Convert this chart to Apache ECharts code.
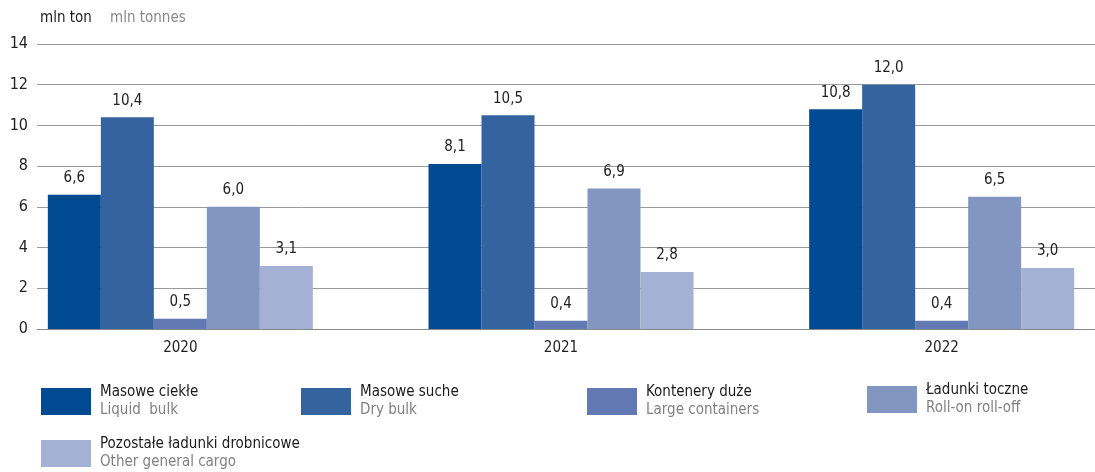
<!DOCTYPE html>
<html>
<head>
<meta charset="utf-8">
<script src="https://cdn.jsdelivr.net/npm/echarts@6/dist/echarts.min.js"></script>
<style>
html,body{margin:0;padding:0;background:#fff;}
#c{width:1095px;height:472px;}
</style>
</head>
<body>
<div id="c"></div>
<script>
const years = ['2020', '2021', '2022'];
const namesPl = ['Masowe ciekłe', 'Masowe suche', 'Kontenery duże', 'Ładunki toczne', 'Pozostałe ładunki drobnicowe'];
const namesEn = ['Liquid  bulk', 'Dry bulk', 'Large containers', 'Roll-on roll-off', 'Other general cargo'];
const liquidBulk = [6.6, 8.1, 10.8];
const dryBulk = [10.4, 10.5, 12.0];
const largeContainers = [0.5, 0.4, 0.4];
const roRo = [6.0, 6.9, 6.5];
const otherCargo = [3.1, 2.8, 3.0];
const yTicks = [0, 2, 4, 6, 8, 10, 12, 14];

const seriesData = [liquidBulk, dryBulk, largeContainers, roRo, otherCargo];
const colors = ['#004a91', '#3563a0', '#6279b3', '#8396c2', '#a4b0d4'];
const FONT = '"Liberation Sans Narrow","DejaVu Sans Condensed",sans-serif';
const FS = 15;
const legendPos = [
  {left: 41, top: 385},
  {left: 301, top: 385},
  {left: 587, top: 385},
  {left: 867, top: 383},
  {left: 41, top: 437}
];

const chart = echarts.init(document.getElementById('c'), null, {renderer: 'canvas'});
const option = {
  animation: false,
  textStyle: {fontFamily: FONT},
  grid: [
    {left: 37, right: 0, top: 44, bottom: 143, outerBoundsMode: 'none', containLabel: false},
    {left: -10, right: -37, top: 44, bottom: 143, outerBoundsMode: 'none', containLabel: false}
  ],
  xAxis: [
    {type: 'category', gridIndex: 0, data: years, axisLine: {lineStyle: {color: '#888', width: 1}},
     axisTick: {show: false}, axisLabel: {show: false}},
    {type: 'category', gridIndex: 1, data: years, axisLine: {show: false}, axisTick: {show: false},
     axisLabel: {color: '#222', fontSize: FS, fontFamily: FONT, margin: 12}}
  ],
  yAxis: [
    {type: 'value', gridIndex: 0, min: yTicks[0], max: yTicks[yTicks.length - 1], interval: 2,
     axisLine: {show: false}, axisTick: {show: false},
     axisLabel: {color: '#222', fontSize: 16, fontFamily: FONT, margin: 9},
     splitLine: {lineStyle: {color: '#999', width: 1}}},
    {type: 'value', gridIndex: 1, min: yTicks[0], max: yTicks[yTicks.length - 1], interval: 2, show: false,
     splitLine: {show: false}}
  ],
  legend: namesPl.map((n, i) => ({
    data: [n],
    left: legendPos[i].left,
    top: legendPos[i].top,
    padding: 0,
    itemWidth: 50,
    itemHeight: 27,
    icon: 'rect',
    selectedMode: false,
    formatter: name => '{a|' + name + '}\n{b|' + namesEn[namesPl.indexOf(name)] + '}',
    textStyle: {
      fontFamily: FONT,
      padding: [0, 0, 0, 4],
      rich: {
        a: {fontSize: FS, color: '#1a1a1a', lineHeight: 18, fontFamily: FONT},
        b: {fontSize: FS, color: '#808080', lineHeight: 18, fontFamily: FONT}
      }
    }
  })),
  graphic: [
    {type: 'text', left: 40, top: 11, style: {text: 'mln ton', fontSize: FS, fill: '#1a1a1a', fontFamily: FONT}},
    {type: 'text', left: 110, top: 11, style: {text: 'mln tonnes', fontSize: FS, fill: '#888', fontFamily: FONT}}
  ],
  series: seriesData.map((d, i) => ({
    name: namesPl[i],
    type: 'bar',
    xAxisIndex: 1,
    yAxisIndex: 1,
    data: d,
    barWidth: 53,
    barGap: '0%',
    itemStyle: {color: colors[i]},
    label: {
      show: true,
      position: 'top',
      distance: 9,
      color: '#222',
      fontSize: FS,
      fontFamily: FONT,
      formatter: p => p.value.toFixed(1).replace('.', ',')
    }
  }))
};
chart.setOption(option);
</script>
</body>
</html>
